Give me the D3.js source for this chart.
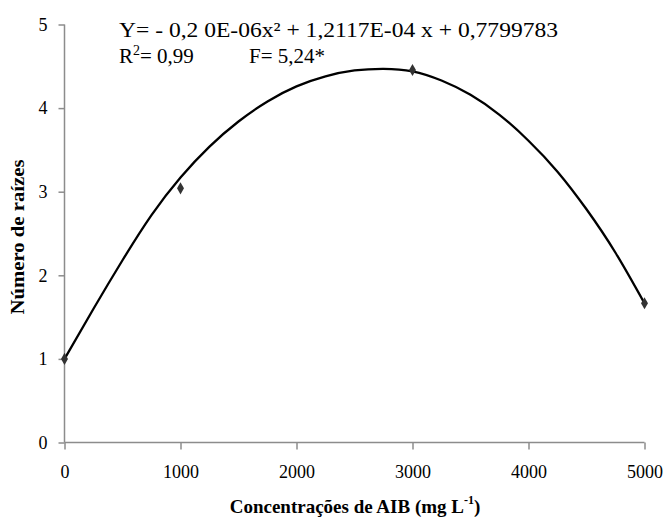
<!DOCTYPE html>
<html lang="pt">
<head>
    <meta charset="utf-8">
    <title>Número de raízes</title>
    <script src="https://d3js.org/d3.v7.min.js"></script>
    <style>
        body { margin: 0; background: #fff; }
        svg text { font-family: "Liberation Serif", "Times New Roman", serif; fill: #000; }
        .axis path, .axis line { stroke: #8c8c8c; stroke-width: 1.5; }
        .axis text { font-size: 18px; }
    </style>
</head>
<body>
    <svg></svg>

    <script>
        // observed means
        var concentracoes = [0, 1000, 3000, 5000];
        var raizes = [1.0, 3.04, 4.455, 1.665];

        // fitted curve
        var curveX = [0, 250, 500, 750, 1000, 1250, 1500, 1750, 2000, 2250, 2500,
                      2750, 3000, 3250, 3500, 3750, 4000, 4250, 4500, 4750, 5000];
        var curveY = [1.0, 1.60, 2.18, 2.72, 3.17, 3.54, 3.84, 4.08, 4.26, 4.38, 4.45,
                      4.47, 4.44, 4.33, 4.16, 3.92, 3.61, 3.24, 2.79, 2.27, 1.665];

        var xTicks = [0, 1000, 2000, 3000, 4000, 5000];
        var yTicks = [0, 1, 2, 3, 4, 5];

        var width = 665;
        var height = 522;
        var margins = { left: 64.5, right: 20.5, top: 24.5, bottom: 79.5 };

        var xscale = d3.scaleLinear()
            .domain([0, 5000])
            .range([margins.left, width - margins.right]);
        var yscale = d3.scaleLinear()
            .domain([0, 5])
            .range([height - margins.bottom, margins.top]);

        var svg = d3.select("svg")
            .attr("width", width)
            .attr("height", height);

        var xaxis = d3.axisBottom(xscale)
            .tickValues(xTicks)
            .tickSize(7)
            .tickPadding(16)
            .tickFormat(d3.format("d"));
        var yaxis = d3.axisLeft(yscale)
            .tickValues(yTicks)
            .tickSize(6)
            .tickPadding(11)
            .tickFormat(d3.format("d"));

        svg.append("g")
            .attr("class", "axis")
            .attr("transform", "translate(0," + yscale(0) + ")")
            .call(xaxis)
            .call(function (g) { g.select(".domain").attr("d", "M" + xscale(0) + ",0H" + xscale(5000)); });

        svg.append("g")
            .attr("class", "axis")
            .attr("transform", "translate(" + xscale(0) + ",0)")
            .call(yaxis)
            .call(function (g) { g.select(".domain").attr("d", "M0," + yscale(5) + "V" + yscale(0)); });

        svg.selectAll(".axis text")
            .attr("font-family", "Liberation Serif")
            .attr("fill", "#000");

        var line = d3.line()
            .x(function (d) { return xscale(d[0]); })
            .y(function (d) { return yscale(d[1]); })
            .curve(d3.curveNatural);

        svg.append("path")
            .datum(curveX.map(function (x, i) { return [x, curveY[i]]; }))
            .attr("d", line)
            .attr("fill", "none")
            .attr("stroke", "#000")
            .attr("stroke-width", 2.3);

        svg.selectAll(".ponto")
            .data(concentracoes)
            .enter()
            .append("path")
            .attr("class", "ponto")
            .attr("d", d3.symbol().type(d3.symbolDiamond).size(42))
            .attr("transform", function (d, i) {
                return "translate(" + xscale(d) + "," + yscale(raizes[i]) + ")";
            })
            .attr("fill", "#333");

        // equation
        svg.append("text")
            .attr("x", 119)
            .attr("y", 37)
            .attr("font-size", 21)
            .attr("textLength", 439)
            .attr("lengthAdjust", "spacingAndGlyphs")
            .text("Y= - 0,2 0E-06x² + 1,2117E-04 x + 0,7799783");
        var r2 = svg.append("text")
            .attr("y", 63)
            .attr("font-size", 21);
        r2.append("tspan").attr("x", 119).text("R");
        r2.append("tspan").attr("font-size", 14).attr("dy", -8).text("2");
        r2.append("tspan").attr("dy", 8).text("= 0,99");
        r2.append("tspan").attr("x", 249).text("F= 5,24*");

        // axis titles
        svg.append("text")
            .attr("transform", "translate(24,237) rotate(-90)")
            .attr("text-anchor", "middle")
            .attr("font-size", 18)
            .attr("font-weight", "bold")
            .attr("textLength", 155)
            .attr("lengthAdjust", "spacingAndGlyphs")
            .text("Número de raízes");

        var xt = svg.append("text")
            .attr("x", 355)
            .attr("y", 513)
            .attr("text-anchor", "middle")
            .attr("font-size", 19)
            .attr("font-weight", "bold");
        xt.append("tspan").text("Concentrações de AIB (mg L");
        xt.append("tspan").attr("font-size", 12).attr("dy", -9).text("-1");
        xt.append("tspan").attr("dy", 9).text(")");
    </script>
</body>
</html>
